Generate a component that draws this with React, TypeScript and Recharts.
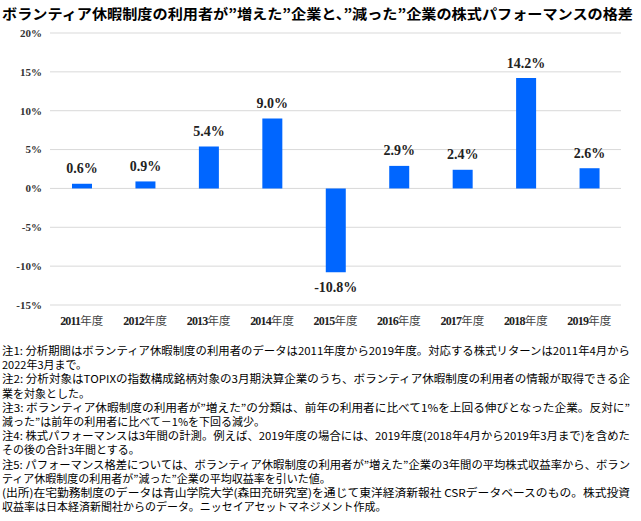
import React from 'react';
import { BarChart, Bar, XAxis, YAxis, CartesianGrid, LabelList } from 'recharts';

const years = ['2011', '2012', '2013', '2014', '2015', '2016', '2017', '2018', '2019'];
const gaps = [0.6, 0.9, 5.4, 9.0, -10.8, 2.9, 2.4, 14.2, 2.6];
const yTicks = [-15, -10, -5, 0, 5, 10, 15, 20];

const title = 'ボランティア休暇制度の利用者が”増えた”企業と、”減った”企業の株式パフォーマンスの格差';
// [text, full width line?]
const notes: [string, boolean][] = [
  ['注1:  分析期間はボランティア休暇制度の利用者のデータは2011年度から2019年度。対応する株式リターンは2011年4月から', true],
  ['2022年3月まで。', false],
  ['注2:  分析対象はTOPIXの指数構成銘柄対象の3月期決算企業のうち、ボランティア休暇制度の利用者の情報が取得できる企', true],
  ['業を対象とした。', false],
  ['注3:  ボランティア休暇制度の利用者が”増えた”の分類は、前年の利用者に比べて1%を上回る伸びとなった企業。反対に”', true],
  ['減った”は前年の利用者に比べて－1%を下回る減少。', false],
  ['注4:  株式パフォーマンスは3年間の計測。例えば、2019年度の場合には、2019年度(2018年4月から2019年3月まで)を含めた', true],
  ['その後の合計3年間とする。', false],
  ['注5:  パフォーマンス格差については、ボランティア休暇制度の利用者が”増えた”企業の3年間の平均株式収益率から、ボラン', true],
  ['ティア休暇制度の利用者が”減った”企業の平均収益率を引いた値。', false],
  ['(出所)在宅勤務制度のデータは青山学院大学(森田充研究室)を通じて東洋経済新報社 CSRデータベースのもの。株式投資', true],
  ['収益率は日本経済新聞社からのデータ。ニッセイアセットマネジメント作成。', false],
];

const data = years.map((y, i) => ({ name: y, value: gaps[i] }));

const serif = '"Liberation Serif", "DejaVu Serif", serif';
const jp = '"Noto Sans CJK JP", sans-serif';

const XTick = (props: any) => {
  const { x, y, payload } = props;
  return (
    <text x={x} y={y + 12} textAnchor="middle" fontSize={12} fill="#222">
      <tspan fontFamily={serif} fontWeight="bold" letterSpacing={-0.8}>{payload.value}</tspan>
      <tspan fontFamily={jp} fill="#444" fontSize={11.5}>年度</tspan>
    </text>
  );
};

const BarLabel = (props: any) => {
  const { x, y, width, height, value } = props;
  const top = Math.min(y, y + height);
  const bottom = Math.max(y, y + height);
  const ly = value >= 0 ? top - 15 : bottom + 15;
  return (
    <text x={x + width / 2} y={ly} textAnchor="middle" dominantBaseline="central"
      fontFamily={serif} fontWeight="bold" fontSize={14} fill="#222">
      {value.toFixed(1)}%
    </text>
  );
};

export default function App() {
  return (
    <div style={{ position: 'absolute', left: 0, top: 0, width: 641, height: 521, background: '#fff' }}>
      <div style={{ position: 'absolute', left: 0, top: 0 }}>
        <BarChart width={641} height={335} data={data} margin={{ top: 33, right: 20, bottom: 0, left: 0 }}>
          <CartesianGrid vertical={false} stroke="#d9d9d9" />
          <XAxis dataKey="name" axisLine={false} tickLine={false} tick={<XTick />} height={30} interval={0} />
          <YAxis domain={[-15, 20]} ticks={yTicks} width={50} axisLine={false} tickLine={false}
            tickFormatter={(v: number) => `${v}%`}
            tick={{ fontFamily: serif, fontSize: 11, fill: '#333', fontWeight: 'bold' }} />
          <Bar dataKey="value" fill="#0066FF" barSize={20} isAnimationActive={false}>
            <LabelList dataKey="value" content={<BarLabel />} />
          </Bar>
        </BarChart>
      </div>
      <svg width={641} height={521} style={{ position: 'absolute', left: 0, top: 0, pointerEvents: 'none' }}>
        <text x={2} y={13} dominantBaseline="central" fontFamily={jp} fontWeight="bold" fontSize={14}
          fill="#000" textLength={631} lengthAdjust="spacingAndGlyphs">
          {title}
        </text>
        {notes.map(([t, full], i) => (
          <text key={i} x={2} y={350 + i * 14.2} dominantBaseline="central" fontFamily={jp} fontSize={11}
            fill="#000" {...(full ? { textLength: 628, lengthAdjust: 'spacingAndGlyphs' } : {})}>
            {t}
          </text>
        ))}
      </svg>
    </div>
  );
}
